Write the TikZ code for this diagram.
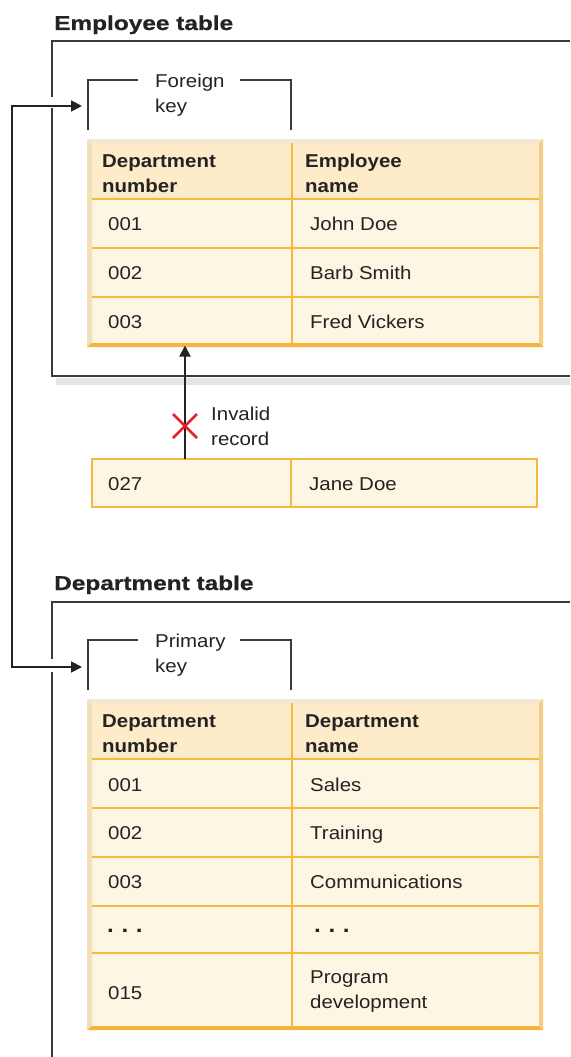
\documentclass[tikz,border=0pt]{standalone}
\usepackage{fontspec}
\setmainfont{Liberation Sans}[FakeStretch=1.1]
\newfontfamily\headfont{Liberation Sans}[FakeStretch=1.22,FakeBold=0.8]
\usetikzlibrary{arrows.meta}

\definecolor{ink}{HTML}{232323}
\definecolor{frameline}{HTML}{3A3A3A}
\definecolor{shadowgrey}{HTML}{E4E4E4}
\definecolor{gridorange}{HTML}{F6B83E}
\definecolor{headfill}{HTML}{FDEBCA}
\definecolor{bodyfill}{HTML}{FDF6E2}
\definecolor{bevelleft}{HTML}{F3E0BA}
\definecolor{beveltop}{HTML}{F2E7D4}
\definecolor{bevelright}{HTML}{F7CD84}
\definecolor{bevelbottom}{HTML}{F5B43B}
\definecolor{crossred}{HTML}{E2232E}

\newcommand\txtsize{\fontsize{18.6}{24.5}\selectfont}
\newcommand\headsize{\fontsize{20}{24}\selectfont}

% two-line labels are anchored at the baseline of their last line
\tikzset{
  label text/.style={anchor=base west, inner sep=0pt, text=ink, font=\txtsize, align=left},
  col head/.style={label text, font=\txtsize\bfseries},
  section head/.style={anchor=base west, inner sep=0pt, text=ink, font=\headsize\headfont\bfseries},
  section frame/.style={draw=frameline, line width=1.8pt},
  key bracket/.style={draw=frameline, line width=1.8pt},
  grid rule/.style={draw=gridorange, line width=2pt},
  link/.style={draw=ink, line width=1.8pt, -{Triangle[length=11pt,width=11pt]}},
  region/.style={anchor=north west, inner sep=0pt, outer sep=0pt},
  loose row/.style={region, draw=gridorange, line width=2pt, fill=bodyfill},
  cross/.style={draw=crossred, line width=2.8pt},
}

\begin{document}
\begin{tikzpicture}[x=1pt,y=-1pt]
\useasboundingbox (0,0) rectangle (570,1057);
\fill[white] (0,0) rectangle (570,1057);

% ---------------- Employee table section ----------------
\node[section head] (emphead) at (54,30) {Employee table};
\fill[shadowgrey] (56,377.5) rectangle (570,385);
\draw[section frame] (52,97) -- (52,41) -- (570,41);
\draw[section frame] (52,108) -- (52,376) -- (570,376);

% foreign key bracket
\draw[key bracket] (88,130) -- (88,80) -- (138,80);
\draw[key bracket] (240,80) -- (291,80) -- (291,130);
\node[label text] (fk) at (155,112) {Foreign\\key};

% employee table body
\node[region, minimum width=456pt, minimum height=208pt] (emptable) at (87,139) {};
\fill[bodyfill] (87,139) rectangle (543,347);
\fill[headfill] (92,143) rectangle (539,199);
\fill[bevelleft] (87,139) -- (92,143) -- (92,343) -- (87,347) -- cycle;
\fill[beveltop] (87,139) -- (543,139) -- (539,143) -- (92,143) -- cycle;
\fill[bevelright] (543,139) -- (543,347) -- (539,343) -- (539,143) -- cycle;
\fill[bevelbottom] (87,347) -- (92,343) -- (539,343) -- (543,347) -- cycle;
\draw[grid rule] (292,143) -- (292,343);
\draw[grid rule] (92,199) -- (539,199) (92,248) -- (539,248) (92,297) -- (539,297);

\node[col head] (eh1) at (102,192) {Department\\number};
\node[col head] (eh2) at (305,192) {Employee\\name};
\node[label text] (e11) at (108,230.5) {001};
\node[label text] (e12) at (310,230.5) {John Doe};
\node[label text] (e21) at (108,279.5) {002};
\node[label text] (e22) at (310,279.5) {Barb Smith};
\node[label text] (e31) at (108,328) {003};
\node[label text] (e32) at (310,328) {Fred Vickers};

% rejected record
\node[loose row, minimum width=445pt, minimum height=48pt] (jane) at (92,459) {};
\draw[grid rule] (291,459) -- (291,507);
\node[label text] (j1) at (108,490) {027};
\node[label text] (j2) at (309,490) {Jane Doe};
\coordinate (insertx) at (185,0);
\draw[link, shorten >=-1.5pt] (jane.north -| insertx) -- (emptable.south -| insertx);
\draw[cross] (173,414) -- (197,438) (173,438) -- (197,414);
\node[label text] (invalid) at (211,445) {Invalid\\record};

% ---------------- Department table section ----------------
\node[section head] (dephead) at (54,590) {Department table};
\draw[section frame] (52,659) -- (52,602) -- (570,602);
\draw[section frame] (52,672) -- (52,1057);

% primary key bracket
\draw[key bracket] (88,690) -- (88,640) -- (138,640);
\draw[key bracket] (240,640) -- (291,640) -- (291,690);
\node[label text] (pk) at (155,672) {Primary\\key};

% department table body
\node[region, minimum width=456pt, minimum height=331pt] (deptable) at (87,699) {};
\fill[bodyfill] (87,699) rectangle (543,1030);
\fill[headfill] (92,703) rectangle (539,759);
\fill[bevelleft] (87,699) -- (92,703) -- (92,1026) -- (87,1030) -- cycle;
\fill[beveltop] (87,699) -- (543,699) -- (539,703) -- (92,703) -- cycle;
\fill[bevelright] (543,699) -- (543,1030) -- (539,1026) -- (539,703) -- cycle;
\fill[bevelbottom] (87,1030) -- (92,1026) -- (539,1026) -- (543,1030) -- cycle;
\draw[grid rule] (292,703) -- (292,1026);
\draw[grid rule] (92,759) -- (539,759) (92,808) -- (539,808) (92,857) -- (539,857)
  (92,906) -- (539,906) (92,953) -- (539,953);

\node[col head] (dh1) at (102,752) {Department\\number};
\node[col head] (dh2) at (305,752) {Department\\name};
\node[label text] (d11) at (108,791) {001};
\node[label text] (d12) at (310,791) {Sales};
\node[label text] (d21) at (108,839) {002};
\node[label text] (d22) at (310,839) {Training};
\node[label text] (d31) at (108,888) {003};
\node[label text] (d32) at (310,888) {Communications};
\node[label text, font=\fontsize{22}{24}\selectfont\bfseries] (d41) at (107,932) {.\hspace{7.6pt}.\hspace{7.6pt}.};
\node[label text, font=\fontsize{22}{24}\selectfont\bfseries] (d42) at (314,932) {.\hspace{7.6pt}.\hspace{7.6pt}.};
\node[label text] (d51) at (108,999) {015};
\node[label text] (d52) at (310,1008) {Program\\development};

% key reference link
\coordinate (fktip) at (82,106);
\coordinate (pktip) at (82,667);
\coordinate (railtop) at (12,106);
\coordinate (railbot) at (12,667);
\draw[link, {Triangle[length=11pt,width=11pt]}-{Triangle[length=11pt,width=11pt]}] (fktip) -- (railtop) -- (railbot) -- (pktip);
\end{tikzpicture}
\end{document}
